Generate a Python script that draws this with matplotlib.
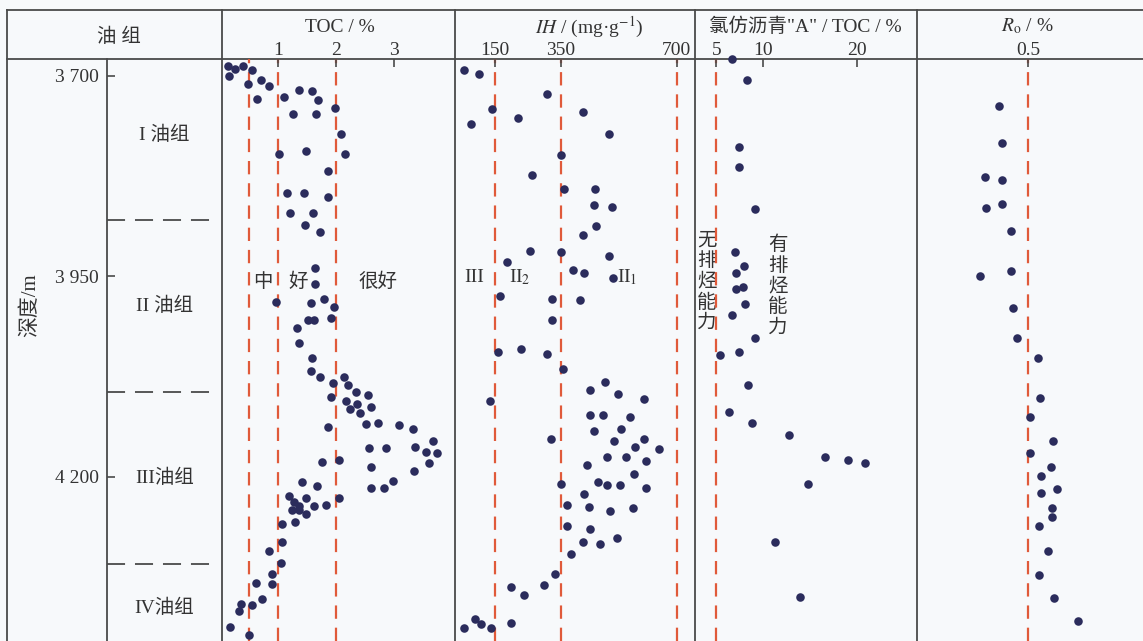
import matplotlib
matplotlib.use("Agg")
import matplotlib.pyplot as plt

plt.rcParams['mathtext.fontset'] = 'stix'
plt.rcParams['font.family'] = ['Liberation Serif', 'Noto Sans CJK SC']

# ---- data (depth in m) ----
toc_depth = [3687, 3700, 3691, 3687, 3693, 3710, 3705, 3712, 3729, 3726,
             3717, 3719, 3730, 3748, 3748, 3740, 3772, 3797, 3797, 3793,
             3819, 3846, 3846, 3851, 3871, 3871, 3886, 3895,
             3939, 3959, 3982, 3983, 3978, 3988, 4004, 4004, 4002, 4014,
             4033, 4052, 4068, 4075, 4075, 4083, 4086, 4094, 4098, 4101,
             4105, 4109, 4113, 4115, 4120, 4134, 4133, 4136, 4140, 4138,
             4156, 4163, 4169, 4170, 4164, 4164, 4183, 4193, 4188, 4182,
             4179, 4205, 4214, 4214, 4207, 4211, 4226, 4224, 4231, 4226,
             4237, 4242, 4242, 4237, 4235, 4247, 4257, 4259, 4281, 4293,
             4308, 4321, 4334, 4333, 4352, 4359, 4360, 4368, 4388, 4397]
toc_value = [0.13, 0.16, 0.26, 0.40, 0.55, 0.49, 0.71, 0.84, 0.63, 1.10,
             1.37, 1.58, 1.69, 1.26, 1.66, 1.98, 2.09, 2.16, 1.01, 1.49,
             1.86, 1.16, 1.45, 1.86, 1.20, 1.61, 1.47, 1.72,
             1.63, 1.63, 0.97, 1.57, 1.79, 1.96, 1.51, 1.62, 1.91, 1.32,
             1.36, 1.59, 1.57, 1.73, 2.13, 1.95, 2.20, 2.34, 2.55, 1.92,
             2.17, 2.37, 2.60, 2.24, 2.41, 2.51, 2.73, 3.09, 3.32, 1.87,
             3.68, 3.36, 3.56, 3.75, 2.57, 2.86, 3.60, 3.35, 2.60, 1.75,
             2.05, 2.98, 2.83, 2.60, 1.41, 1.68, 2.05, 1.19, 1.28, 1.48,
             1.37, 1.24, 1.36, 1.62, 1.82, 1.49, 1.29, 1.07, 1.07, 0.85,
             1.06, 0.90, 0.90, 0.62, 0.73, 0.37, 0.55, 0.32, 0.18, 0.50]

ih_depth = [3693, 3697, 3722, 3741, 3745, 3752, 3760, 3772, 3799, 3823,
            3841, 3841, 3861, 3864, 3887, 3898, 3918, 3919, 3925, 3932,
            3942, 3946, 3952, 3975, 3978, 3980, 4005,
            4045, 4041, 4047, 4066, 4082, 4092, 4097, 4103, 4106, 4123,
            4123, 4126, 4143, 4141, 4153, 4153, 4156, 4163, 4166, 4176,
            4176, 4180, 4185, 4197, 4209, 4206, 4210, 4210, 4214, 4222,
            4235, 4238, 4243, 4239, 4261, 4265, 4276, 4281, 4284, 4297,
            4321, 4335, 4337, 4348, 4378, 4389, 4384, 4389, 4383]
ih_value = [56, 101, 308, 142, 418, 219, 78, 495, 350, 263,
            359, 452, 451, 504, 455, 418, 256, 350, 496, 187,
            387, 421, 508, 165, 323, 407, 323,
            160, 230, 307, 355, 483, 439, 522, 601, 136, 439,
            478, 559, 450, 532, 319, 602, 510, 573, 646, 488,
            548, 607, 429, 571, 349, 462, 489, 530, 607, 420,
            368, 436, 498, 567, 367, 439, 521, 418, 468, 379,
            333, 299, 198, 237, 88, 55, 108, 138, 198]

chl_depth = [3679, 3705, 3788, 3814, 3866, 3919, 3937, 3946, 3963, 3966,
             3985, 3998, 4027, 4048, 4044, 4085, 4119, 4133, 4148, 4175,
             4179, 4183, 4209, 4282, 4350]
chl_value = [6.70, 8.26, 7.41, 7.38, 9.12, 7.02, 7.91, 7.12, 7.87, 7.06,
             8.08, 6.67, 9.15, 5.42, 7.41, 8.40, 6.32, 8.76, 12.71, 16.60,
             19.02, 20.80, 14.76, 11.28, 13.88]

ro_depth = [3737, 3784, 3826, 3830, 3865, 3860, 3893, 3943, 3949, 3990,
            4027, 4052, 4102, 4126, 4155, 4170, 4188, 4199, 4215, 4220,
            4239, 4250, 4262, 4293, 4323, 4351, 4380]
ro_value = [0.369, 0.384, 0.305, 0.384, 0.309, 0.384, 0.422, 0.422, 0.285, 0.432,
            0.449, 0.545, 0.554, 0.510, 0.611, 0.510, 0.602, 0.559, 0.631, 0.559,
            0.609, 0.607, 0.550, 0.590, 0.551, 0.619, 0.724]

toc_ticks = [1, 2, 3]
ih_ticks = [150, 350, 700]
chl_ticks = [5, 10, 20]
ro_ticks = [0.5]

toc_limits = [0.5, 1, 2]
ih_limits = [150, 350, 700]
chl_limits = [5]
ro_limits = [0.5]

depth_ticks = [3700, 3950, 4200]
depth_labels = ['3 700', '3 950', '4 200']
group_tops = [3880, 4094, 4309]
group_names = ['I 油组', 'II 油组', 'III油组', 'IV油组']
group_mid = [3774, 3987, 4202, 4364]

# ---- style ----
BG = '#f7f9fb'
LINE = '#4a4a4a'
TEXT = '#333333'
DOT = '#2b2c5c'
RED = '#e05a3a'
W, H = 1143, 641
HEAD = 59          # header bottom, px
DEPTH_TOP, DEPTH_BOT = 3678.8, 4405.0

fig = plt.figure(figsize=(W / 100, H / 100), dpi=100, facecolor=BG)

# background layer in pixel coordinates: table frame + header text
bg = fig.add_axes([0, 0, 1, 1], zorder=-1)
bg.set_xlim(0, W)
bg.set_ylim(H, 0)
bg.axis('off')
for x in [7, 222, 455, 695, 917]:
    bg.plot([x, x], [10, H], color=LINE, lw=1.3)
bg.plot([107, 107], [HEAD, H], color=LINE, lw=1.3)
bg.plot([7, W], [10, 10], color=LINE, lw=1.3)
bg.plot([7, W], [HEAD, HEAD], color=LINE, lw=1.3)

bg.text(119, 37, '油 组', ha='center', va='center', fontsize=14, color=TEXT)
bg.text(340, 27, 'TOC / %', ha='center', va='center', fontsize=14, color=TEXT)
bg.text(589, 27, r'$\mathit{IH}$ / (mg·g$^{-1}$)', ha='center', va='center',
        fontsize=14, color=TEXT)
bg.text(805, 27, '氯仿沥青"A" / TOC / %', ha='center', va='center',
        fontsize=14, color=TEXT)
bg.text(1027, 26, r'$R_\mathrm{o}$ / %', ha='center', va='center',
        fontsize=14, color=TEXT)
bg.text(30, 305, '深度/m', ha='center', va='center', rotation=90,
        fontsize=15, color=TEXT)

# in-panel annotations
bg.text(263, 282, '中', ha='center', va='center', fontsize=14, color=TEXT)
bg.text(298, 282, '好', ha='center', va='center', fontsize=14, color=TEXT)
bg.text(378, 282, '很好', ha='center', va='center', fontsize=14, color=TEXT)
bg.text(474, 277, 'III', ha='center', va='center', fontsize=14, color=TEXT)
bg.text(520, 277, r'II$_2$', ha='center', va='center', fontsize=14, color=TEXT)
bg.text(627, 277, r'II$_1$', ha='center', va='center', fontsize=14, color=TEXT)
bg.text(707, 282, '无\n排\n烃\n能\n力', ha='center', va='center',
        fontsize=14, color=TEXT, linespacing=1.2)
bg.text(778, 286, '有\n排\n烃\n能\n力', ha='center', va='center',
        fontsize=14, color=TEXT, linespacing=1.2)


def panel(x0, x1):
    ax = fig.add_axes([x0 / W, 0, (x1 - x0) / W, (H - HEAD) / H], facecolor='none')
    ax.set_ylim(DEPTH_BOT, DEPTH_TOP)
    for s in ax.spines.values():
        s.set_visible(False)
    return ax


# oil-group column
gax = panel(107, 222)
gax.set_xlim(0, 1)
gax.set_xticks([])
gax.set_yticks(depth_ticks)
gax.set_yticklabels(depth_labels)
gax.tick_params(axis='y', direction='in', length=6, width=1.2, color=LINE,
                pad=6, labelsize=14, labelcolor=TEXT)
for d in group_tops:
    gax.axhline(d, xmin=0, xmax=0.93, color=LINE, lw=1.3, dashes=(10, 5.5))
for name, d in zip(group_names, group_mid):
    gax.text(0.5, d, name, ha='center', va='center', fontsize=14, color=TEXT)

panels = [
    (222, 455, (0.034, 4.052), toc_ticks, ['1', '2', '3'], toc_limits, toc_value, toc_depth),
    (455, 695, (28.8, 756), ih_ticks, ['150', '350', '700'], ih_limits, ih_value, ih_depth),
    (695, 917, (2.73, 26.39), chl_ticks, ['5', '10', '20'], chl_limits, chl_value, chl_depth),
    (917, W, (0, 1.018), ro_ticks, ['0.5'], ro_limits, ro_value, ro_depth),
]
for x0, x1, xlim, ticks, labels, limits, vals, depths in panels:
    ax = panel(x0, x1)
    ax.set_xlim(*xlim)
    ax.xaxis.tick_top()
    ax.set_xticks(ticks)
    ax.set_xticklabels(labels)
    ax.set_yticks([])
    ax.tick_params(axis='x', direction='in', length=6, width=1.2, color=LINE,
                   pad=0, labelsize=14, labelcolor=TEXT)
    for v in limits:
        ax.axvline(v, color=RED, lw=1.6, dashes=(6, 4), zorder=1)
    ax.scatter(vals, depths, s=38, color=DOT, linewidths=0, zorder=3, clip_on=False)

fig.savefig('out.png', dpi=100, facecolor=BG)
